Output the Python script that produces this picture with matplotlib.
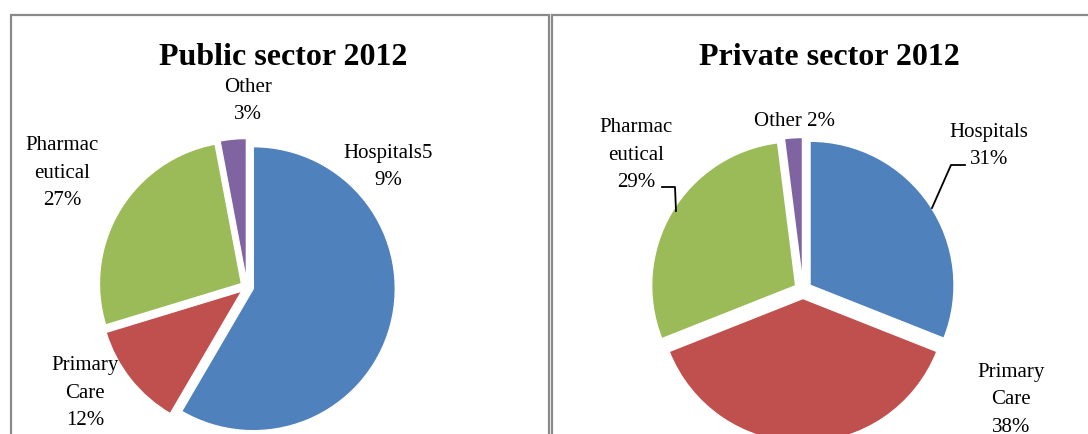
import matplotlib
matplotlib.use("Agg")
import matplotlib.pyplot as plt
from matplotlib.patches import Rectangle

# ---------------- data ----------------
categories = ["Hospitals", "Primary Care", "Pharmaceutical", "Other"]
public_values = [59, 12, 27, 3]
private_values = [31, 38, 29, 2]
public_title = "Public sector 2012"
private_title = "Private sector 2012"
public_label_text = ["Hospitals5\n9%", "Primary\nCare\n12%", "Pharmac\neutical\n27%", "Other\n3%"]
private_label_text = ["Hospitals\n31%", "Primary\nCare\n38%", "Pharmac\neutical\n29%", "Other 2%"]
colors = ["#4F81BD", "#C0504D", "#9BBB59", "#8064A2"]

# ---------------- layout (pixels, y from top) ----------------
W, H = 1088, 434
SERIF = ["Liberation Serif", "DejaVu Serif"]

fig = plt.figure(figsize=(W / 100, H / 100), dpi=100)
ax = fig.add_axes([0, 0, 1, 1])
ax.set_xlim(0, W)
ax.set_ylim(0, H)
ax.set_aspect("equal")
ax.axis("off")


def Y(y):
    return H - y


# panel borders
for x0, x1 in [(11, 549), (551.5, 1100)]:
    ax.add_patch(Rectangle((x0, Y(470)), x1 - x0, 470 - 15, fill=False,
                           edgecolor="#8a8a8a", linewidth=1.6, zorder=1))

panels = [
    dict(values=public_values, title=public_title, labels=public_label_text,
         center=(247, 287), radius=142, explode=6.5, title_x=283,
         label_pos=[(388, 167), (85, 393), (62, 173), (248, 101)],
         leaders=[]),
    dict(values=private_values, title=private_title, labels=private_label_text,
         center=(803, 290), radius=144, explode=8.5, title_x=829,
         label_pos=[(989, 146), (1011, 400), (636, 155), (795, 122)],
         leaders=[[(932, 208), (951, 165), (965, 165)],
                  [(676, 211), (675, 187), (662, 187)]]),
]

for p in panels:
    cx, cy = p["center"]
    ax.pie(p["values"], colors=colors, startangle=90, counterclock=False,
           center=(cx, Y(cy)), radius=p["radius"],
           explode=[p["explode"]] * len(p["values"]),
           wedgeprops=dict(edgecolor="white", linewidth=1.0), frame=True)
    ax.text(p["title_x"], Y(65), p["title"], ha="center", va="baseline",
            fontsize=23, fontweight="bold", family=SERIF, color="black")
    for txt, (lx, ly) in zip(p["labels"], p["label_pos"]):
        ax.text(lx, Y(ly), txt, ha="center", va="center", fontsize=15,
                family=SERIF, linespacing=1.62, color="black", zorder=5)
    for pts in p["leaders"]:
        xs = [q[0] for q in pts]
        ys = [Y(q[1]) for q in pts]
        ax.plot(xs, ys, color="black", linewidth=1.3, zorder=4)

ax.set_xlim(0, W)
ax.set_ylim(0, H)
ax.axis("off")
fig.savefig("out.png", dpi=100)
